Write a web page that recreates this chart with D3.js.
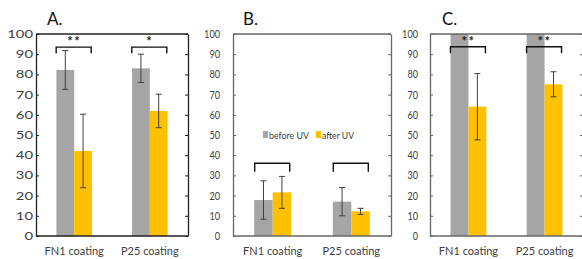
<!DOCTYPE html>
<html>
<head>
<meta charset="utf-8">
<script src="https://cdn.jsdelivr.net/npm/d3@7"></script>
<style>
  body { margin: 0; background: #fff; }
  text { font-family: Lato, "Open Sans", sans-serif; }
</style>
</head>
<body>
<div id="chart"></div>
<script>
// data
const categories = ["FN1 coating", "P25 coating"];
const seriesNames = ["before UV", "after UV"];
const panelLabels = ["A.", "B.", "C."];
const yTicks = [0, 10, 20, 30, 40, 50, 60, 70, 80, 90, 100];

const beforeMean = [[82.2, 83.0], [17.8, 17.0], [100, 100]];
const beforeSD = [[9.6, 7.0], [9.5, 7.0], [null, null]];
const afterMean = [[42.1, 61.9], [21.6, 12.2], [64.0, 75.1]];
const afterSD = [[18.2, 8.3], [7.9, 1.5], [16.4, 6.2]];

const bracketTop = [93.5, 36.0, 93.7];
const bracketBottom = [90.5, 31.8, 90.5];
const stars = [["**", "*"], ["", ""], ["**", "**"]];

// layout
const width = 582;
const height = 259;
const plotTop = 34, plotBottom = 236;
const panels = [
  { left: 36, right: 188, labelGap: 3, digitW: 8.6, frame: "#222", titleX: 47 },
  { left: 233, right: 391, labelGap: 13, digitW: 5.3, frame: "#666", titleX: 243 },
  { left: 430, right: 583, labelGap: 12, digitW: 5.3, frame: "#666", titleX: 442 }
];
const colors = ["#A5A5A5", "#FFC000"];

const svg = d3.select("#chart")
  .append("svg")
  .attr("width", width)
  .attr("height", height);

const y = d3.scaleLinear().domain([0, 100]).range([plotBottom, plotTop]);

panels.forEach((p, i) => {
  const g = svg.append("g");

  const x = d3.scaleBand()
    .domain(categories)
    .range([p.left, p.right])
    .paddingInner(0.53)
    .paddingOuter(0.27);

  const xs = d3.scaleBand()
    .domain(seriesNames)
    .range([0, x.bandwidth()]);

  const rows = categories.map((c, j) => ({
    cat: c,
    vals: [
      { s: seriesNames[0], v: beforeMean[i][j], sd: beforeSD[i][j], c: colors[0] },
      { s: seriesNames[1], v: afterMean[i][j], sd: afterSD[i][j], c: colors[1] }
    ]
  }));

  const groups = g.selectAll(".grp")
    .data(rows)
    .enter()
    .append("g")
    .attr("transform", d => `translate(${x(d.cat)},0)`);

  groups.selectAll("rect")
    .data(d => d.vals)
    .enter()
    .append("rect")
    .attr("x", d => xs(d.s))
    .attr("y", d => y(d.v))
    .attr("width", xs.bandwidth())
    .attr("height", d => plotBottom - y(d.v))
    .attr("fill", d => d.c);

  // error bars
  const eb = groups.selectAll(".err")
    .data(d => d.vals.filter(v => v.sd != null))
    .enter()
    .append("g")
    .attr("stroke", "#404040")
    .attr("stroke-width", 1);

  eb.append("line")
    .attr("x1", d => xs(d.s) + xs.bandwidth() / 2)
    .attr("x2", d => xs(d.s) + xs.bandwidth() / 2)
    .attr("y1", d => y(d.v + d.sd))
    .attr("y2", d => y(d.v - d.sd));
  [1, -1].forEach(k => {
    eb.append("line")
      .attr("x1", d => xs(d.s) + xs.bandwidth() / 2 - 3)
      .attr("x2", d => xs(d.s) + xs.bandwidth() / 2 + 3)
      .attr("y1", d => y(d.v + k * d.sd))
      .attr("y2", d => y(d.v + k * d.sd));
  });

  // frame
  g.append("line")
    .attr("x1", p.left).attr("x2", p.right)
    .attr("y1", plotTop).attr("y2", plotTop)
    .attr("stroke", p.frame).attr("stroke-width", 1.3);
  g.append("line")
    .attr("x1", p.left).attr("x2", p.right)
    .attr("y1", plotBottom).attr("y2", plotBottom)
    .attr("stroke", p.frame).attr("stroke-width", 1.3);

  const yAxis = g.append("g")
    .attr("transform", `translate(${p.left},0)`)
    .call(d3.axisLeft(y).tickValues(yTicks).tickSize(-3).tickSizeOuter(0));
  yAxis.select(".domain").attr("stroke", p.frame).attr("stroke-width", 1.3);
  yAxis.selectAll(".tick line").attr("stroke", p.frame);
  yAxis.selectAll(".tick text")
    .attr("x", -p.labelGap)
    .attr("fill", "#404040")
    .style("font-size", "11px")
    .attr("textLength", d => String(d).length * p.digitW)
    .attr("lengthAdjust", "spacingAndGlyphs");

  const rAxis = g.append("g")
    .attr("transform", `translate(${p.right},0)`)
    .call(d3.axisRight(y).tickValues(yTicks).tickSize(-3).tickSizeOuter(0).tickFormat(""));
  rAxis.select(".domain").attr("stroke", p.frame).attr("stroke-width", 1.3);
  rAxis.selectAll(".tick line").attr("stroke", p.frame);

  // category labels
  g.selectAll(".xlab")
    .data(categories)
    .enter()
    .append("text")
    .attr("x", d => x(d) + x.bandwidth() / 2)
    .attr("y", 255)
    .attr("text-anchor", "middle")
    .attr("fill", "#404040")
    .style("font-size", "11px")
    .text(d => d);

  // brackets
  categories.forEach((c, j) => {
    const cx = x(c) + x.bandwidth() / 2;
    const x0 = cx - 18, x1 = cx + 17;
    g.append("path")
      .attr("d", `M${x0},${y(bracketBottom[i])}V${y(bracketTop[i])}H${x1}V${y(bracketBottom[i])}`)
      .attr("fill", "none")
      .attr("stroke", "#111")
      .attr("stroke-width", 1.4);
    if (stars[i][j]) {
      g.append("text")
        .attr("x", cx)
        .attr("y", y(bracketTop[i]) - 1)
        .attr("text-anchor", "middle")
        .attr("fill", "#222")
        .style("font-size", "13px")
        .style("font-weight", "bold")
        .style("letter-spacing", "1.5px")
        .text(stars[i][j]);
    }
  });

  // panel title
  svg.append("text")
    .attr("x", p.titleX)
    .attr("y", 25)
    .attr("fill", "#111")
    .style("font-size", "17px")
    .text(panelLabels[i]);

  // legend in panel B
  if (i === 1) {
    const lg = g.append("g").attr("transform", `translate(263,${y(50)})`);
    const lx = [0, 53];
    const lw = [40, 32];
    seriesNames.forEach((s, k) => {
      lg.append("rect")
        .attr("x", lx[k]).attr("y", -4)
        .attr("width", 5).attr("height", 7)
        .attr("fill", colors[k]);
      lg.append("text")
        .attr("x", lx[k] + 6).attr("y", 3.5)
        .attr("fill", "#404040")
        .style("font-size", "10px")
        .attr("textLength", lw[k])
        .attr("lengthAdjust", "spacingAndGlyphs")
        .text(s);
    });
  }
});
</script>
</body>
</html>
